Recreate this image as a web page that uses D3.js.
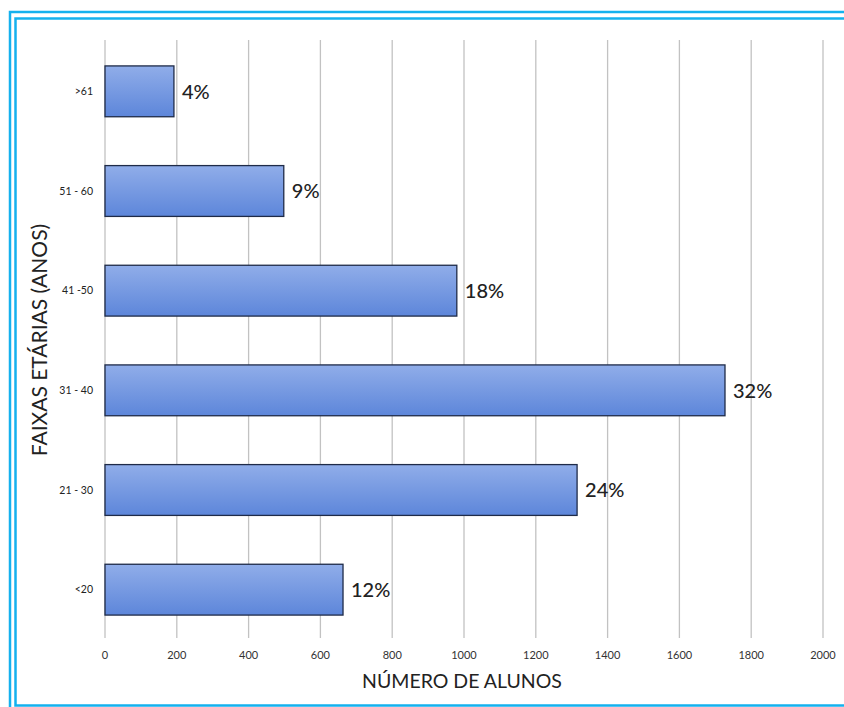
<!DOCTYPE html>
<html>
<head>
<meta charset="utf-8">
<script src="https://cdn.jsdelivr.net/npm/d3@7"></script>
<style>
  body { margin: 0; background: #fff; }
  svg { display: block; font-family: Lato, "Open Sans", sans-serif; }
</style>
</head>
<body>
<div id="chart"></div>
<script>
// data (top to bottom)
const categories = [">61", "51 - 60", "41 -50", "31 - 40", "21 - 30", "<20"];
const alunos = [192, 498, 980, 1727, 1315, 663];
const percentLabels = ["4%", "9%", "18%", "32%", "24%", "12%"];
const xTicks = [0, 200, 400, 600, 800, 1000, 1200, 1400, 1600, 1800, 2000];

const WIDTH = 844;
const HEIGHT = 707;
const BORDER = "#14b1ee";

const svg = d3.select("#chart").append("svg")
    .attr("width", WIDTH)
    .attr("height", HEIGHT);

// gradient for the bars
const grad = svg.append("defs").append("linearGradient")
    .attr("id", "barGrad")
    .attr("x1", 0).attr("x2", 0).attr("y1", 0).attr("y2", 1);
grad.append("stop").attr("offset", "0%").attr("stop-color", "#90ade9");
grad.append("stop").attr("offset", "100%").attr("stop-color", "#5d86da");

// double blue frame (no right side, cut by the picture)
svg.append("path")
    .attr("d", "M10,712 L10,12 L844,12")
    .attr("fill", "none").attr("stroke", BORDER).attr("stroke-width", 2.5);
svg.append("path")
    .attr("d", "M844,705.5 L15.5,705.5 L15.5,18.5 L844,18.5")
    .attr("fill", "none").attr("stroke", BORDER).attr("stroke-width", 2.5);

const x = d3.scaleLinear().domain([0, 2000]).range([105, 823]);
const y = d3.scaleBand().domain(categories).range([42, 639])
    .paddingInner(0.49).paddingOuter(0.24);

// vertical gridlines
svg.append("g").selectAll("line")
    .data(xTicks)
    .enter()
    .append("line")
    .attr("x1", d => x(d)).attr("x2", d => x(d))
    .attr("y1", 40).attr("y2", 638)
    .attr("stroke", "#c2c2c2")
    .attr("stroke-width", 1.3);

// x tick labels
svg.append("g").selectAll("text")
    .data(xTicks)
    .enter()
    .append("text")
    .attr("x", d => x(d))
    .attr("y", 659)
    .attr("text-anchor", "middle")
    .attr("font-size", 11)
    .attr("fill", "#333")
    .text(d => d);

// bars
svg.append("g").selectAll("rect")
    .data(alunos)
    .enter()
    .append("rect")
    .attr("x", x(0))
    .attr("y", (d, i) => y(categories[i]))
    .attr("width", d => x(d) - x(0))
    .attr("height", y.bandwidth())
    .attr("fill", "url(#barGrad)")
    .attr("stroke", "#1f2b48")
    .attr("stroke-width", 1.3);

// percentage labels
svg.append("g").selectAll("text")
    .data(alunos)
    .enter()
    .append("text")
    .attr("x", d => x(d) + 8)
    .attr("y", (d, i) => y(categories[i]) + y.bandwidth() / 2)
    .attr("dy", "0.36em")
    .attr("font-size", 20)
    .attr("font-weight", 500)
    .attr("fill", "#222")
    .text((d, i) => percentLabels[i]);

// category labels
svg.append("g").selectAll("text")
    .data(categories)
    .enter()
    .append("text")
    .attr("x", 93)
    .attr("y", d => y(d) + y.bandwidth() / 2)
    .attr("dy", "0.35em")
    .attr("text-anchor", "end")
    .attr("font-size", 10.5)
    .attr("fill", "#222")
    .text(d => d);

// axis titles
svg.append("text")
    .attr("x", 462)
    .attr("y", 688)
    .attr("text-anchor", "middle")
    .attr("font-size", 19.5)
    .attr("fill", "#222")
    .text("NÚMERO DE ALUNOS");

svg.append("text")
    .attr("transform", "translate(47,340) rotate(-90)")
    .attr("text-anchor", "middle")
    .attr("font-size", 21)
    .attr("fill", "#222")
    .text("FAIXAS ETÁRIAS (ANOS)");
</script>
</body>
</html>
